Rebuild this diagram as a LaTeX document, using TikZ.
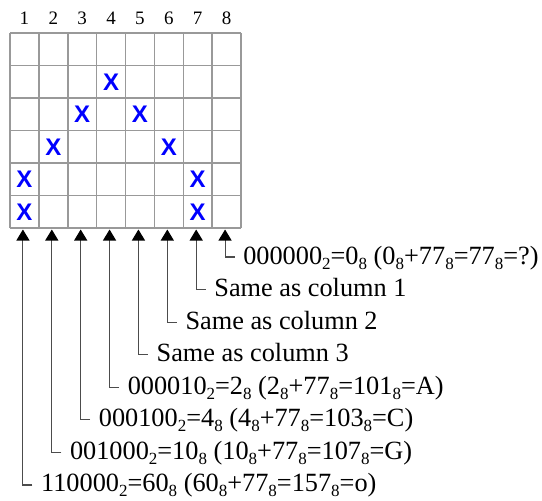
\documentclass[tikz,border=0pt]{standalone}
\usepackage{fontspec}
\setmainfont{Liberation Serif}
\newfontfamily\xfont{Liberation Sans}
\usetikzlibrary{arrows.meta}
\newcommand\sbs[1]{\raisebox{-5pt}{\fontsize{17}{17}\selectfont #1}}
\begin{document}
\begin{tikzpicture}[x=1pt,y=-1pt,
  gridline/.style={draw=gray!80, line width=1.5pt},
  colnum/.style={font=\fontsize{19}{19}\selectfont, anchor=base, inner sep=0},
  xmark/.style={font=\xfont\bfseries\fontsize{24}{24}\selectfont, text=blue, inner sep=0},
  lbl/.style={font=\fontsize{26.3}{27}\selectfont, anchor=base west, inner sep=0},
  conn/.style={draw=black!70, line width=1.1pt, -{Triangle[width=13pt,length=11pt,color=black]}}]
\useasboundingbox (0,0) rectangle (542,501);
% grid
\foreach \i in {0,...,8} \draw[gridline] ({10+28.875*\i},33) -- ({10+28.875*\i},228);
\foreach \j in {0,...,6} \draw[gridline] (10,{33+32.5*\j}) -- (241,{33+32.5*\j});
% column numbers
\foreach \i in {1,...,8} \node[colnum] (n\i) at ({10+28.875*(\i-0.5)},24) {\i};
% X marks
\foreach \c/\r [count=\k] in {4/2,3/3,5/3,2/4,6/4,1/5,7/5,1/6,7/6}
  \node[xmark] (x\k) at ({10+28.875*(\c-0.5)},{33+32.5*(\r-0.5)}) {X};
% arrow targets
\foreach \i in {1,...,8} \coordinate (c\i) at ({10+28.875*(\i-0.5)-1.5},229.5);
% labels
\foreach \i/\t in {
  8/{000000\sbs{2}=0\sbs{8} (0\sbs{8}+77\sbs{8}=77\sbs{8}=?)},
  7/{Same as column 1},
  6/{Same as column 2},
  5/{Same as column 3},
  4/{000010\sbs{2}=2\sbs{8} (2\sbs{8}+77\sbs{8}=101\sbs{8}=A)},
  3/{000100\sbs{2}=4\sbs{8} (4\sbs{8}+77\sbs{8}=103\sbs{8}=C)},
  2/{001000\sbs{2}=10\sbs{8} (10\sbs{8}+77\sbs{8}=107\sbs{8}=G)},
  1/{110000\sbs{2}=60\sbs{8} (60\sbs{8}+77\sbs{8}=157\sbs{8}=o)}}
{
  \node[lbl] (l\i) at ({10+28.875*(\i-0.5)+16.5},{257+(8-\i)*32.57+7}) {\t};
  \coordinate (t\i) at ([shift={(-8.5,-7)}]l\i.base west);
  \draw[conn] (t\i) -| (c\i);
}
\end{tikzpicture}
\end{document}
